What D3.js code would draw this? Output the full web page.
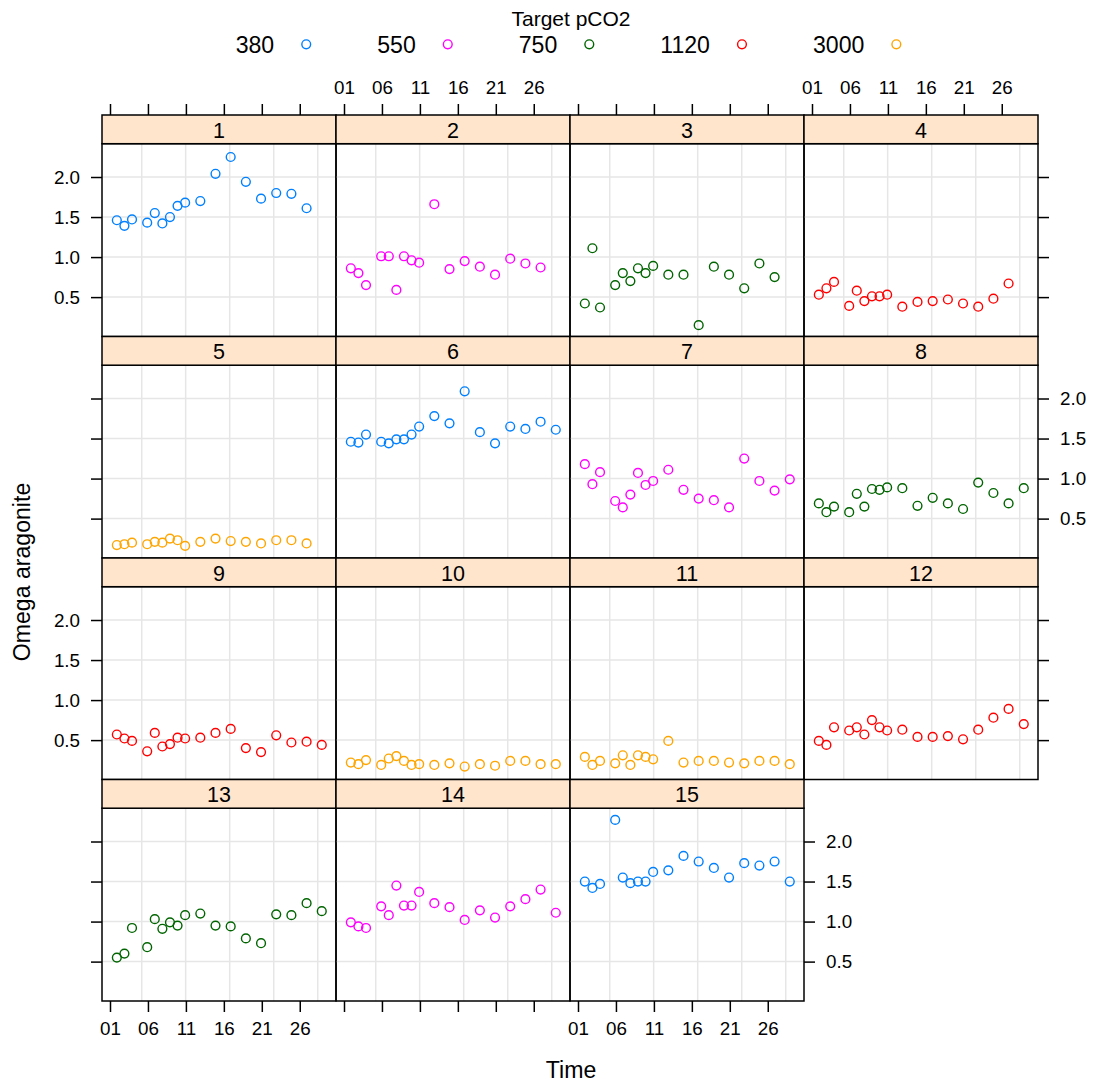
<!DOCTYPE html>
<html><head><meta charset="utf-8">
<script src="https://cdn.jsdelivr.net/npm/d3@7"></script>
<style>
body{margin:0;background:#fff}
text{font-family:"Liberation Sans",Arial,Helvetica,sans-serif;fill:#000}
</style>
</head><body>
<svg id="chart" width="1094" height="1087"></svg>
<script>
// ---------------- data ----------------
const timeA = [2,3,4,6,7,8,9,10,11,13,15,17,19,21,23,25,27];
const timeB = [2,3,4,6,7,8,9,10,11,13,15,17,19,21,23,25,27,29];

const targets = ["380","550","750","1120","3000"];
const targetColors = ["#0080ff","#ff00ff","#006400","#ff0000","#ffa500"];

const panelNames = ["1","2","3","4","5","6","7","8","9","10","11","12","13","14","15"];
const panelTarget = ["380","550","750","1120","3000","380","550","750","1120","3000","3000","1120","750","550","380"];

const p1  = [1.46,1.39,1.47,1.43,1.55,1.42,1.50,1.64,1.68,1.70,2.04,2.25,1.94,1.73,1.80,1.79,1.61];
const p2  = [0.86,0.80,0.65,1.01,1.01,0.59,1.01,0.96,0.93,1.66,0.85,0.95,0.88,0.78,0.98,0.92,0.87];
const p3  = [0.42,1.11,0.37,0.65,0.80,0.70,0.86,0.80,0.89,0.78,0.78,0.15,0.88,0.78,0.61,0.92,0.75];
const p4  = [0.53,0.61,0.69,0.39,0.58,0.45,0.51,0.51,0.53,0.38,0.44,0.45,0.47,0.42,0.38,0.48,0.67];
const p5  = [0.17,0.18,0.20,0.18,0.21,0.20,0.25,0.23,0.16,0.21,0.25,0.22,0.21,0.19,0.23,0.23,0.19];
const p6  = [1.46,1.45,1.55,1.46,1.44,1.49,1.49,1.55,1.65,1.78,1.69,2.09,1.58,1.44,1.65,1.62,1.71,1.61];
const p7  = [1.18,0.93,1.08,0.72,0.64,0.80,1.07,0.92,0.97,1.11,0.86,0.75,0.73,0.64,1.25,0.97,0.85,0.99];
const p8  = [0.69,0.58,0.65,0.58,0.81,0.65,0.87,0.86,0.89,0.88,0.66,0.76,0.69,0.62,0.95,0.82,0.69,0.88];
const p9  = [0.57,0.52,0.49,0.36,0.59,0.42,0.45,0.53,0.52,0.53,0.59,0.64,0.40,0.35,0.56,0.47,0.48,0.44];
const p10 = [0.22,0.20,0.25,0.19,0.27,0.30,0.24,0.19,0.20,0.19,0.21,0.17,0.20,0.18,0.24,0.24,0.20,0.20];
const p11 = [0.29,0.19,0.24,0.21,0.31,0.19,0.31,0.29,0.26,0.49,0.22,0.24,0.24,0.22,0.21,0.24,0.24,0.20];
const p12 = [0.49,0.44,0.66,0.62,0.66,0.57,0.75,0.66,0.62,0.63,0.54,0.54,0.55,0.51,0.63,0.78,0.89,0.70];
const p13 = [0.55,0.60,0.92,0.68,1.03,0.91,0.99,0.95,1.08,1.10,0.95,0.94,0.79,0.73,1.09,1.08,1.23,1.13];
const p14 = [0.99,0.94,0.92,1.19,1.08,1.45,1.20,1.20,1.37,1.23,1.18,1.02,1.14,1.05,1.19,1.28,1.40,1.11];
const p15 = [1.50,1.42,1.47,2.27,1.55,1.48,1.50,1.50,1.62,1.64,1.82,1.75,1.67,1.55,1.73,1.70,1.75,1.50];
const panelValues = [p1,p2,p3,p4,p5,p6,p7,p8,p9,p10,p11,p12,p13,p14,p15];

const xTickValues = [1,6,11,16,21,26];
const xTickLabels = ["01","06","11","16","21","26"];
const xGridValues = [5.18,10.97,16.77,22.57,28.37];
const yTickValues = [0.5,1.0,1.5,2.0];

const legendTitle = "Target pCO2";
const xTitle = "Time";
const yTitle = "Omega aragonite";

// ---------------- layout ----------------
const W = 1094, H = 1087;
const left0 = 102, colW = 234, nCols = 4;
const top0 = 115, rowH = 221.5, stripH = 28.7;
const panelH = rowH - stripH;
const tickLen = 11;
const font = "Liberation Sans, Arial, Helvetica, sans-serif";
const fsTick = 18.8, fsStrip = 21.5, fsTitle = 21, fsLarge = 23.1;
const timeShift = 0.1;

const svg = d3.select("#chart");
svg.append("rect").attr("width", W).attr("height", H).attr("fill", "#fff");

const colorOf = d3.scaleOrdinal().domain(targets).range(targetColors);
const x = d3.scaleLinear().domain([-0.054, 30.776]).range([0, colW]);
const y = d3.scaleLinear().domain([0.008, 2.416]).range([panelH, 0]);

const nPanels = panelNames.length;
const nRows = Math.ceil(nPanels / nCols);

function panelPos(i) {
  const r = Math.floor(i / nCols), c = i % nCols;
  return {r, c, x0: left0 + c * colW, sy: top0 + r * rowH, py: top0 + r * rowH + stripH};
}

// panels
panelNames.forEach((name, i) => {
  const {x0, sy, py} = panelPos(i);
  const g = svg.append("g").attr("transform", `translate(${x0},${py})`);
  g.selectAll(".gv").data(xGridValues).enter().append("line")
    .attr("x1", d => x(d)).attr("x2", d => x(d)).attr("y1", 0).attr("y2", panelH)
    .attr("stroke", "#e6e6e6").attr("stroke-width", 1.5);
  g.selectAll(".gh").data(yTickValues).enter().append("line")
    .attr("x1", 0).attr("x2", colW).attr("y1", d => y(d)).attr("y2", d => y(d))
    .attr("stroke", "#e6e6e6").attr("stroke-width", 1.5);
  const vals = panelValues[i];
  const times = vals.length === timeA.length ? timeA : timeB;
  const col = colorOf(panelTarget[i]);
  g.selectAll("circle").data(vals).enter().append("circle")
    .attr("cx", (d, k) => x(times[k] - timeShift))
    .attr("cy", d => y(d))
    .attr("r", 4.4).attr("fill", "none").attr("stroke", col).attr("stroke-width", 1.4);
  g.append("rect").attr("width", colW).attr("height", panelH)
    .attr("fill", "none").attr("stroke", "#000").attr("stroke-width", 1.5);
  const sg = svg.append("g").attr("transform", `translate(${x0},${sy})`);
  sg.append("rect").attr("width", colW).attr("height", stripH)
    .attr("fill", "#ffe5cc").attr("stroke", "#000").attr("stroke-width", 1.5);
  sg.append("text").attr("x", colW / 2).attr("y", stripH / 2 + 1.5)
    .attr("text-anchor", "middle").attr("dominant-baseline", "central")
    .style("font-size", fsStrip + "px").text(name);
});

// x axes
for (let c = 0; c < nCols; c++) {
  const x0 = left0 + c * colW;
  const gt = svg.append("g").attr("transform", `translate(${x0},${top0})`);
  const showTop = c % 2 === 1;
  gt.call(d3.axisTop(x).tickValues(xTickValues)
      .tickSize(tickLen).tickPadding(10)
      .tickFormat((d, k) => showTop ? xTickLabels[k] : ""));
  let lastIdx = -1;
  for (let i = 0; i < nPanels; i++) if (i % nCols === c) lastIdx = i;
  const {r} = panelPos(lastIdx);
  if (r === nRows - 1) {
    const showBottom = c % 2 === 0;
    const gb = svg.append("g").attr("transform", `translate(${x0},${top0 + r * rowH + rowH})`);
    gb.call(d3.axisBottom(x).tickValues(xTickValues)
      .tickSize(tickLen).tickPadding(10)
      .tickFormat((d, k) => showBottom ? xTickLabels[k] : ""));
  }
}

// y axes
for (let r = 0; r < nRows; r++) {
  const py = top0 + r * rowH + stripH;
  const gl = svg.append("g").attr("transform", `translate(${left0},${py})`);
  const showLeft = r % 2 === 0;
  gl.call(d3.axisLeft(y).tickValues(yTickValues).tickSize(tickLen).tickPadding(11)
    .tickFormat(d => showLeft ? d3.format(".1f")(d) : ""));
  const lastInRow = Math.min(nPanels, (r + 1) * nCols) - r * nCols;
  const gr = svg.append("g").attr("transform", `translate(${left0 + lastInRow * colW},${py})`);
  const showRight = r % 2 === 1;
  gr.call(d3.axisRight(y).tickValues(yTickValues).tickSize(tickLen).tickPadding(11)
    .tickFormat(d => showRight ? d3.format(".1f")(d) : ""));
}

svg.selectAll(".domain").remove();
svg.selectAll(".tick line").attr("stroke", "#000").attr("stroke-width", 1.5);
svg.selectAll(".tick text").style("font-size", fsTick + "px").style("font-family", font).attr("fill", "#000");

// titles
svg.append("text").attr("x", 571).attr("y", 1078).attr("text-anchor", "middle")
  .style("font-size", fsLarge + "px").text(xTitle);
svg.append("text").attr("transform", "translate(29.5,572) rotate(-90)").attr("text-anchor", "middle")
  .style("font-size", fsLarge + "px").text(yTitle);

// legend
svg.append("text").attr("x", 571).attr("y", 26).attr("text-anchor", "middle")
  .style("font-size", fsTitle + "px").text(legendTitle);
let lx = 235.7;
targets.forEach((t, k) => {
  const tx = svg.append("text").attr("x", lx).attr("y", 53)
    .style("font-size", fsLarge + "px").text(t);
  const tw = tx.node().getComputedTextLength();
  svg.append("circle").attr("cx", lx + tw + 32).attr("cy", 44.3).attr("r", 4.4)
    .attr("fill", "none").attr("stroke", targetColors[k]).attr("stroke-width", 1.4);
  lx += tw + 103;
});
</script>
</body></html>
